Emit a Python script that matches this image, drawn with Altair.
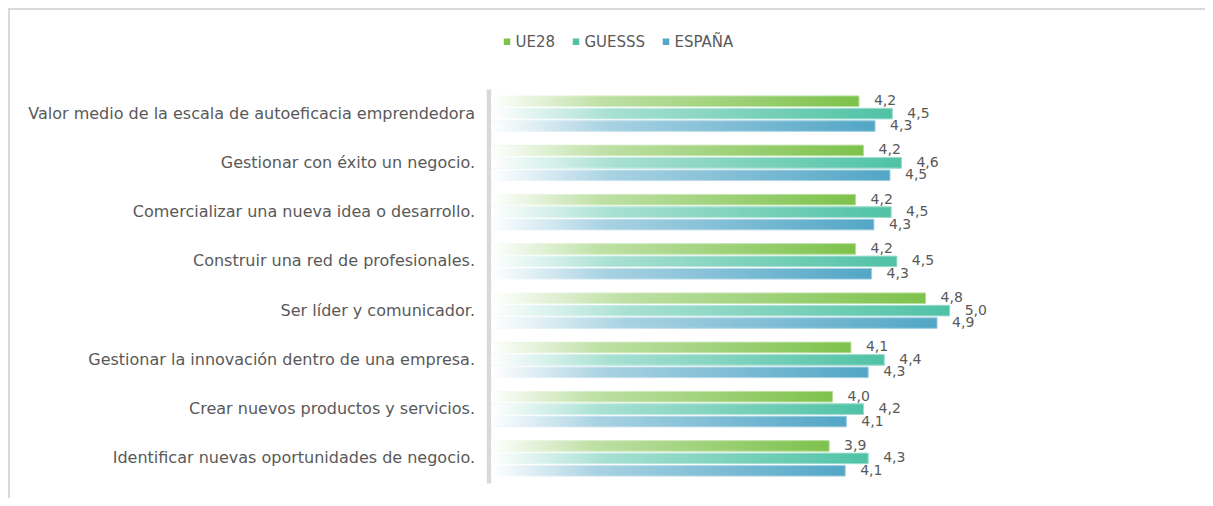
import altair as alt
import pandas as pd

categories = [
    "Valor medio de la escala de autoeficacia emprendedora",
    "Gestionar con éxito un negocio.",
    "Comercializar una nueva idea o desarrollo.",
    "Construir una red de profesionales.",
    "Ser líder y comunicador.",
    "Gestionar la innovación dentro de una empresa.",
    "Crear nuevos productos y servicios.",
    "Identificar nuevas oportunidades de negocio.",
]
series = ["UE28", "GUESSS", "ESPAÑA"]
ue28 = [4.20, 4.24, 4.17, 4.17, 4.78, 4.13, 3.97, 3.94]
guesss = [4.49, 4.57, 4.48, 4.53, 4.99, 4.42, 4.24, 4.28]
espana = [4.34, 4.47, 4.33, 4.31, 4.88, 4.28, 4.09, 4.08]

colors = ["#7DC24B", "#4FC2A5", "#52A6C6"]
FONT = "DejaVu Sans"
GREY = "#595959"


def tint(hex_color, t):
    h = hex_color.lstrip("#")
    r, g, b = (int(h[i:i + 2], 16) for i in (0, 2, 4))
    r = round(255 - (255 - r) * t)
    g = round(255 - (255 - g) * t)
    b = round(255 - (255 - b) * t)
    return f"#{r:02x}{g:02x}{b:02x}"


rows = []
for s, vals in zip(series, [ue28, guesss, espana]):
    for c, v in zip(categories, vals):
        rows.append({"category": c, "series": s, "value": v,
                     "label": f"{v:.1f}".replace(".", ",")})
df = pd.DataFrame(rows)

x_enc = alt.X("value:Q", scale=alt.Scale(domain=[1, 7], nice=False, zero=False), axis=None)
y_enc = alt.Y(
    "category:N",
    sort=categories,
    scale=alt.Scale(paddingInner=0.28, paddingOuter=0.14),
    axis=alt.Axis(
        title=None, ticks=False, tickSize=0, grid=False,
        labelFont=FONT, labelFontSize=16, labelColor=GREY, labelPadding=14,
        labelLimit=0, domainColor="#d9d9d9", domainWidth=4.5, offset=3,
    ),
)
yoff_enc = alt.YOffset("series:N", sort=series,
                       scale=alt.Scale(domain=series, paddingInner=0.15, paddingOuter=0))

base = alt.Chart(df)

legend_bars = base.mark_bar(strokeWidth=0).encode(
    x=x_enc, x2=alt.datum(1), y=y_enc, yOffset=yoff_enc,
    color=alt.Color(
        "series:N", sort=series,
        scale=alt.Scale(domain=series, range=colors),
        legend=alt.Legend(
            orient="none", legendX=8, legendY=-55, direction="horizontal",
            title=None, symbolType="square", symbolSize=42, symbolStrokeWidth=0,
            labelFont=FONT, labelFontSize=15, labelColor=GREY, labelOffset=1,
            columnPadding=13,
        ),
    ),
)

layers = [legend_bars]
for s, col in zip(series, colors):
    grad = alt.LinearGradient(
        gradient="linear", x1=0, x2=1, y1=0, y2=0,
        stops=[
            alt.GradientStop(offset=0, color="#ffffff"),
            alt.GradientStop(offset=0.3, color=tint(col, 0.5)),
            alt.GradientStop(offset=1, color=col),
        ],
    )
    sgrad = alt.LinearGradient(
        gradient="linear", x1=0, x2=1, y1=0, y2=0,
        stops=[
            alt.GradientStop(offset=0, color="#ffffff"),
            alt.GradientStop(offset=0.3, color=tint(col, 0.3)),
            alt.GradientStop(offset=1, color=tint(col, 0.55)),
        ],
    )
    layers.append(
        base.transform_filter(alt.datum.series == s)
        .mark_bar(fill=grad, stroke=sgrad, strokeWidth=1)
        .encode(x=x_enc, x2=alt.datum(1), y=y_enc, yOffset=yoff_enc)
    )

labels = base.mark_text(
    align="left", baseline="middle", dx=15, font=FONT, fontSize=14, color=GREY
).encode(x=x_enc, y=y_enc, yOffset=yoff_enc, text="label:N")
layers.append(labels)

frame_df = pd.DataFrame({"k": [0]})
frame_top = alt.Chart(frame_df).mark_rule(color="#d9d9d9", strokeWidth=2).encode(
    x=alt.value(-483), x2=alt.value(800), y=alt.value(-80)
)
frame_left = alt.Chart(frame_df).mark_rule(color="#d9d9d9", strokeWidth=2).encode(
    x=alt.value(-482.5), y=alt.value(-81), y2=alt.value(500)
)
layers += [frame_top, frame_left]

chart = (
    alt.layer(*layers)
    .properties(
        width=689, height=394,
        padding={"left": 483.5, "top": 81, "right": 24.5, "bottom": 15},
        autosize=alt.AutoSizeParams(type="none"),
        background="white",
    )
    .configure_view(stroke=None)
)

chart.save("out.html", embed_options={"renderer": "svg", "actions": False})
